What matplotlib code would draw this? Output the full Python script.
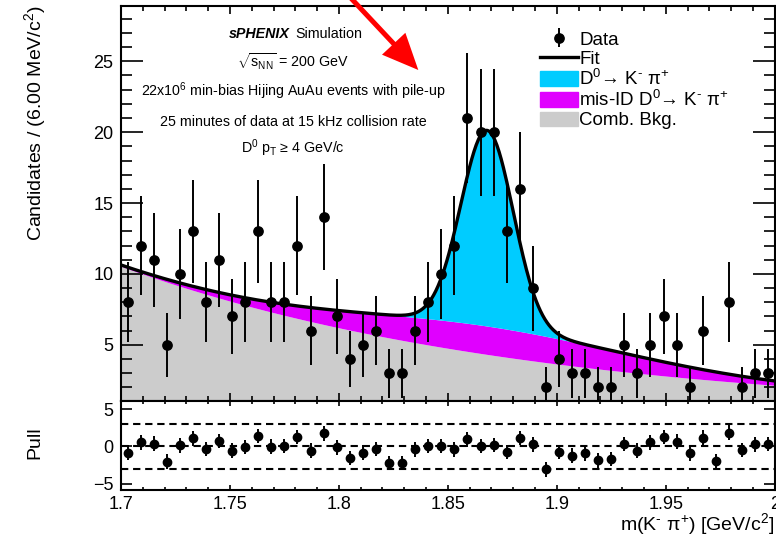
import numpy as np
import matplotlib
matplotlib.use("Agg")
from matplotlib import pyplot as plt
from matplotlib.patches import FancyArrow, Patch
from matplotlib.lines import Line2D
from matplotlib.ticker import MultipleLocator, NullLocator, FuncFormatter

plt.rcParams['font.family'] = ['Liberation Sans', 'DejaVu Sans']
plt.rcParams['mathtext.fontset'] = 'custom'
plt.rcParams['mathtext.rm'] = 'Liberation Sans'
plt.rcParams['mathtext.it'] = 'Liberation Sans:italic'
plt.rcParams['mathtext.bf'] = 'Liberation Sans:bold'

# 50 bins of 6 MeV between 1.70 and 2.00 GeV
m_lo, m_hi, n_bins = 1.70, 2.00, 50
bin_centers = m_lo + (np.arange(n_bins) + 0.5) * (m_hi - m_lo) / n_bins

counts = np.array([8, 12, 11, 5, 10, 13, 8, 11, 7, 8,
                   13, 8, 8, 12, 6, 14, 7, 4, 5, 6,
                   3, 3, 6, 8, 10, 12, 21, 20, 20, 13,
                   16, 9, 2, 4, 3, 3, 2, 2, 5, 3,
                   5, 7, 5, 2, 6, 1, 8, 2, 3, 3])

pulls = np.array([-0.86, 0.54, 0.35, -2.07, 0.13, 1.08, -0.36, 0.71, -0.59, -0.09,
                  1.38, -0.05, 0.04, 1.25, -0.59, 1.75, -0.13, -1.57, -0.86, -0.36,
                  -2.24, -2.24, -0.40, 0.04, 0.04, -0.40, 0.94, 0.04, 0.17, -0.77,
                  1.12, 0.27, -3.09, -0.77, -1.26, -0.94, -1.88, -1.71, 0.31, -0.59,
                  0.54, 1.25, 0.62, -0.94, 1.16, -1.98, 1.83, -0.50, 0.27, 0.31])

# fit components (candidates per bin)
comb_norm, comb_slope = 10.54, -5.3
misid_norm, misid_mean, misid_sigma = 2.0, 1.868, 0.068
sig_norm, sig_mean, sig_sigma = 13.8, 1.868, 0.012

m = np.linspace(m_lo, m_hi, 601)
comb = comb_norm * np.exp(comb_slope * (m - m_lo))
misid = misid_norm * np.exp(-0.5 * ((m - misid_mean) / misid_sigma) ** 2)
sig = sig_norm * np.exp(-0.5 * ((m - sig_mean) / sig_sigma) ** 2)
total = comb + misid + sig

c_sig, c_misid, c_comb = '#00ccff', '#e000ff', '#cccccc'

W, H = 776, 536
fig = plt.figure(figsize=(W / 100, H / 100), dpi=100)
ax = fig.add_axes([121 / W, 1 - 401 / H, 653.7 / W, 395 / H])
axp = fig.add_axes([121 / W, 1 - 490 / H, 653.7 / W, 89 / H])

y_min, y_max = 1.04, 28.9

# stacked fit components
ax.fill_between(m, 0, comb, color=c_comb, lw=0)
ax.fill_between(m, comb, comb + misid, color=c_misid, lw=0)
ax.fill_between(m, comb + misid, total, color=c_sig, lw=0)
ax.plot(m, total, color='black', lw=2.4)

vis = counts > y_min
data = ax.errorbar(bin_centers[vis], counts[vis], yerr=np.sqrt(counts[vis]),
                   fmt='o', color='black', ms=6.7, elinewidth=1.4, capsize=0)

ax.set_xlim(m_lo, m_hi)
ax.set_ylim(y_min, y_max)
ax.xaxis.set_major_locator(MultipleLocator(0.05))
ax.xaxis.set_minor_locator(MultipleLocator(0.01))
ax.yaxis.set_major_locator(MultipleLocator(5))
ax.yaxis.set_minor_locator(MultipleLocator(1))
ax.tick_params(which='both', direction='in', top=True, right=True,
               labelbottom=False, labelsize=13, width=1.2, pad=5.5)
ax.tick_params(axis='y', which='major', length=16)
ax.tick_params(axis='y', which='minor', length=8)
ax.tick_params(axis='x', which='major', length=6)
ax.tick_params(axis='x', which='minor', length=3.3)

handles = [data,
           Line2D([], [], color='black', lw=2.4),
           Patch(color=c_sig), Patch(color=c_misid), Patch(color=c_comb)]
labels = ['Data', 'Fit',
          r'D$^{0}$→ K$^{\text{-}}$ π$^{+}$',
          r'mis-ID D$^{0}$→ K$^{\text{-}}$ π$^{+}$',
          'Comb. Bkg.']
ax.legend(handles, labels, loc='upper left', bbox_to_anchor=(0.641, 0.937),
          frameon=False, fontsize=13.5, labelspacing=0.06, handlelength=2.0,
          handleheight=0.85, handletextpad=0.1, borderpad=0, borderaxespad=0)

# pull panel
for lvl in (-3, 0, 3):
    axp.axhline(lvl, color='black', lw=1.5, ls=(0, (3.5, 2.3)))
axp.errorbar(bin_centers, pulls, yerr=1, fmt='o', color='black', ms=6,
             elinewidth=1.4, capsize=0)
axp.set_xlim(m_lo, m_hi)
axp.set_ylim(-5.87, 6.09)
axp.set_yticks([-5, 0, 5])
axp.yaxis.set_minor_locator(NullLocator())
axp.xaxis.set_major_locator(MultipleLocator(0.05))
axp.xaxis.set_minor_locator(MultipleLocator(0.01))
axp.xaxis.set_major_formatter(FuncFormatter(lambda v, _: f'{v:g}'))
axp.tick_params(which='both', direction='in', top=True, right=True,
                labelsize=13, width=1.2, pad=4.0)
axp.tick_params(axis='y', which='major', length=8, pad=5.5)
axp.tick_params(axis='x', which='major', length=3.5)
axp.tick_params(axis='x', which='minor', length=2)

for a in (ax, axp):
    for sp in a.spines.values():
        sp.set_linewidth(1.5)

fig.text(35 / W, 1 - 5 / H, 'Candidates / (6.00 MeV/c$^{2}$)', rotation=90,
         ha='center', va='top', fontsize=14)
fig.text(35 / W, 1 - 443 / H, 'Pull', rotation=90, ha='center', va='center',
         fontsize=14)
fig.text(774 / W, 1 - 524 / H, r'm(K$^{\text{-}}$ π$^{+}$) [GeV/c$^{2}$]',
         ha='right', va='center', fontsize=14)

# labels in the upper left
tx = 293 / W
fig.text(289.5 / W, 1 - 34 / H, 'sPHENIX', ha='right', va='center',
         fontsize=10.3, fontweight='bold', fontstyle='italic')
fig.text(295.5 / W, 1 - 34 / H, 'Simulation', ha='left', va='center',
         fontsize=10.3)
fig.text(tx, 1 - 62 / H, r'$\sqrt{\mathrm{s}_{\mathrm{NN}}}$ = 200 GeV',
         ha='center', va='center', fontsize=10.3)
fig.text(tx, 1 - 91 / H, '22x10$^{6}$ min-bias Hijing AuAu events with pile-up',
         ha='center', va='center', fontsize=10.3)
fig.text(tx, 1 - 122 / H, '25 minutes of data at 15 kHz collision rate',
         ha='center', va='center', fontsize=10.3)
fig.text(tx, 1 - 148 / H, r'D$^{0}$ p$_{\mathrm{T}}$ ≥ 4 GeV/c',
         ha='center', va='center', fontsize=10.3)

# red arrow pointing at the peak
tail = (3.48, 5.41)
tip = (4.183, 4.66)
arrow = FancyArrow(tail[0], tail[1], tip[0] - tail[0], tip[1] - tail[1],
                   width=0.05, head_width=0.32, head_length=0.36,
                   length_includes_head=True, color='red', lw=0,
                   transform=fig.dpi_scale_trans, clip_on=False)
fig.add_artist(arrow)

fig.savefig('out.png', dpi=100)
